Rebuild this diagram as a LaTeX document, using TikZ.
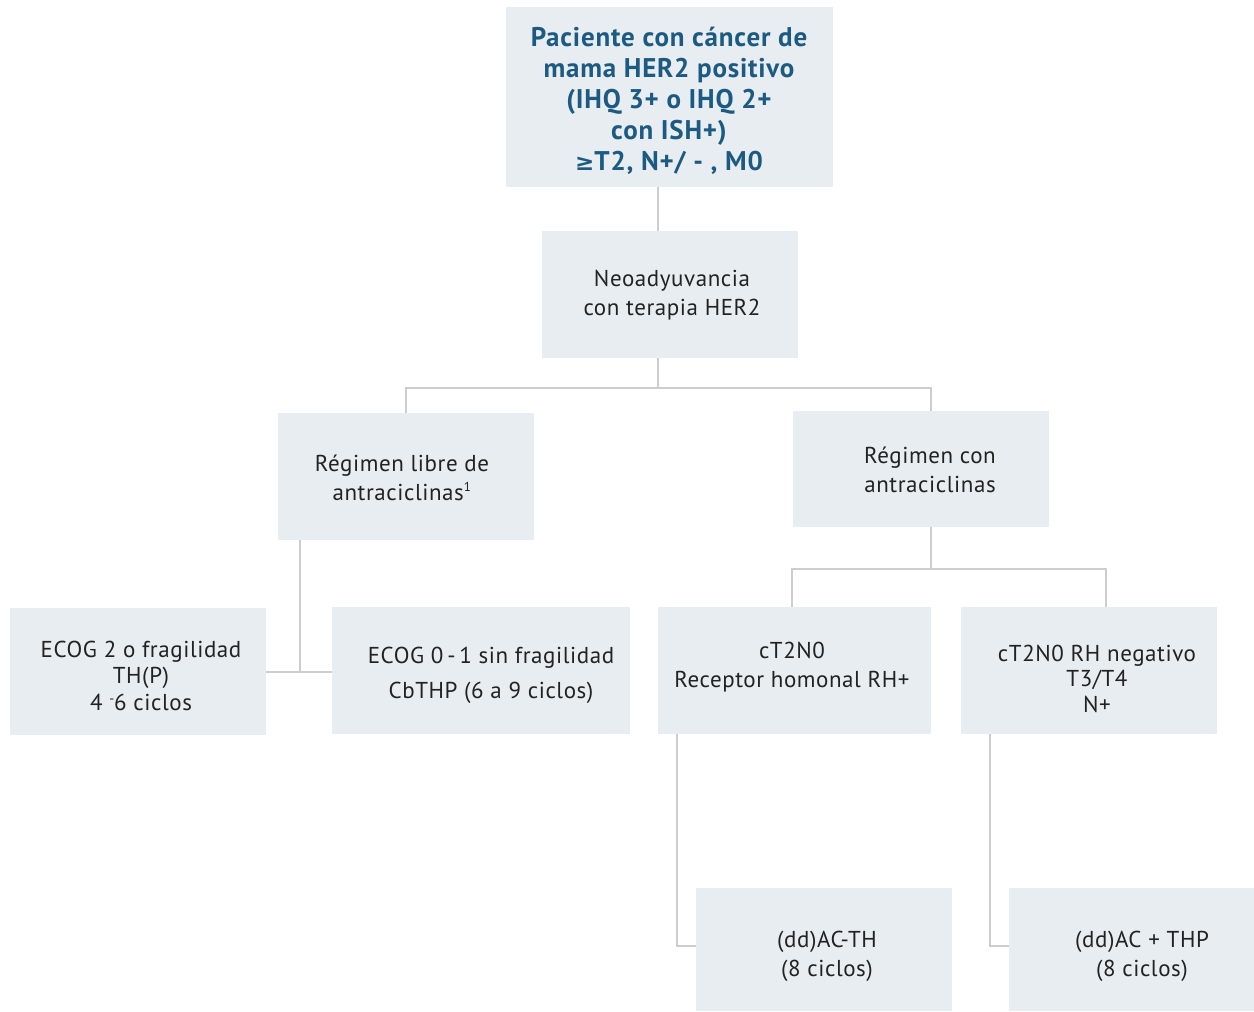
\documentclass[tikz,border=0pt]{standalone}
\usepackage{fontspec}
\setmainfont{PT Sans}
\newfontfamily\symf{DejaVu Sans}
\begin{document}
\begin{tikzpicture}[x=1pt,y=-1pt,
  box/.style={fill=boxfill,draw=none,inner sep=0pt},
  lbl/.style={inner sep=0pt,align=center,text=txt,font=\addfontfeature{LetterSpace=2.5}\fontsize{23}{29}\selectfont},
  conn/.style={draw=linegray,line width=2.6pt}]
\definecolor{boxfill}{HTML}{E8EDF1}
\definecolor{linegray}{HTML}{CDCDCD}
\definecolor{txt}{HTML}{222222}
\definecolor{ttl}{HTML}{1D5A82}
\useasboundingbox (0,0) rectangle (1254,1012);
% boxes
\node[box,minimum width=327pt,minimum height=180pt] (top) at (669.5,97) {};
\node[box,minimum width=256pt,minimum height=127pt] (neo) at (670,294.5) {};
\node[box,minimum width=256pt,minimum height=127pt] (libre) at (406,476.5) {};
\node[box,minimum width=256pt,minimum height=116pt] (con) at (921,469) {};
\node[box,minimum width=256pt,minimum height=127pt] (ecog2) at (138,671.5) {};
\node[box,minimum width=298pt,minimum height=127pt] (ecog01) at (481,670.5) {};
\node[box,minimum width=273pt,minimum height=127pt] (rhp) at (794.5,670.5) {};
\node[box,minimum width=256pt,minimum height=127pt] (rhn) at (1089,670.5) {};
\node[box,minimum width=256pt,minimum height=123pt] (acth) at (824,949.5) {};
\node[box,minimum width=245pt,minimum height=123pt] (acthp) at (1131.5,949.5) {};
% texts
\node[lbl,text=ttl,font=\bfseries\addfontfeature{LetterSpace=3}\fontsize{27}{31}\selectfont] (ttop) at (669,100.5)
  {Paciente con cáncer de\\mama HER2 positivo\\(IHQ 3+ o IHQ 2+\\con ISH+)\\{\symf\fontsize{23}{31}\selectfont ≥}T2, N+/ - , M0};
\node[lbl] (tneo) at (672,295.5) {Neoadyuvancia\\con terapia HER2};
\node[lbl] (tlibre) at (402,477.5) {Régimen libre de\\antraciclinas\textsuperscript{\fontsize{13}{13}\selectfont 1}};
\node[lbl] (tcon) at (930,470) {Régimen con\\antraciclinas};
\node[lbl,font=\addfontfeature{LetterSpace=2.5}\fontsize{23}{26.5}\selectfont] (tecog2) at (141,675.5) {ECOG 2 o fragilidad\\TH(P)\\4 \raisebox{0.6ex}{\scalebox{0.6}{-}}6 ciclos};
\node[lbl,font=\addfontfeature{LetterSpace=2.5}\fontsize{23}{35}\selectfont] (tecog01) at (491,675.5) {ECOG 0\,-\,1 sin fragilidad\\CbTHP (6 a 9 ciclos)};
\node[lbl] (trhp) at (792,667.5) {cT2N0\\Receptor homonal RH+};
\node[lbl,font=\addfontfeature{LetterSpace=2.5}\fontsize{23}{25.5}\selectfont] (trhn) at (1097,678.5) {cT2N0 RH negativo\\T3/T4\\N+};
\node[lbl] (tacth) at (827,956) {(dd)AC\kern-3pt-\kern-1pt TH\\(8 ciclos)};
\node[lbl] (tacthp) at (1142,956) {(dd)AC + THP\\(8 ciclos)};
% connectors
\coordinate (j1) at (658,388);
\draw[conn] (top.south -| j1) -- (neo.north -| j1);
\draw[conn] (neo.south -| j1) -- (j1);
\draw[conn] (libre.north) -- (406,388) -- (931,388) -- (con.north -| 931,0);
\draw[conn] (libre.south -| 300,0) -- (300,672);
\draw[conn] (ecog2.east |- 0,672) -- (ecog01.west |- 0,672);
\coordinate (j2) at (931,569);
\draw[conn] (con.south -| j2) -- (j2);
\draw[conn] (rhp.north -| 792,0) -- (792,569) -- (1106,569) -- (rhn.north -| 1106,0);
\draw[conn] (rhp.south -| 677,0) -- (677,946) -- (acth.west |- 0,946);
\draw[conn] (rhn.south -| 990,0) -- (990,946) -- (acthp.west |- 0,946);
\end{tikzpicture}
\end{document}
